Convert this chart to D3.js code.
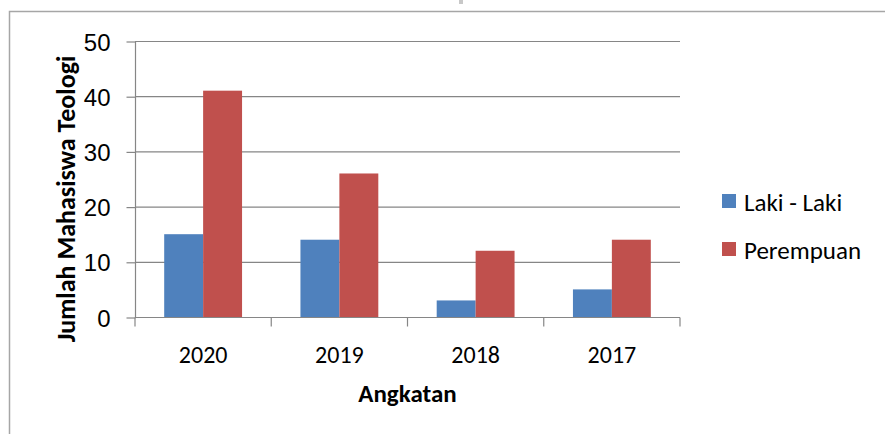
<!DOCTYPE html>
<html>
<head>
<meta charset="utf-8">
<script src="https://cdn.jsdelivr.net/npm/d3@7"></script>
<style>
  body { margin: 0; background: #fff; }
  svg { display: block; font-family: Calibri, Carlito, 'Open Sans', sans-serif; }
</style>
</head>
<body>
<svg id="chart" width="885" height="434"></svg>
<script>
//
// Data
//

var years = ['2020', '2019', '2018', '2017']
var seriesNames = ['Laki - Laki', 'Perempuan']
var laki = [15, 14, 3, 5]
var perempuan = [41, 26, 12, 14]
var yTicks = [0, 10, 20, 30, 40, 50]

//
// Configuration
//

var colorLaki = '#4f81bd'
var colorPerempuan = '#c0504d'
var colorGrid = '#868686'
var colorBorder = '#a6a6a6'
var plot = { left: 135, right: 680, top: 41, bottom: 317 }
// excel style gap width (150% of one bar)
var gapWidth = 1.5

//
// Drawing
//

var svg = d3.select('#chart')

// outer chart border
svg.append('rect')
  .attr('x', 9.5).attr('y', 11.5)
  .attr('width', 890).attr('height', 440)
  .attr('fill', 'none')
  .attr('stroke', colorBorder)
  .attr('stroke-width', 1.5)

svg.append('rect')
  .attr('x', 459).attr('y', 0)
  .attr('width', 4).attr('height', 4)
  .attr('fill', '#c8c8c8')

var band = d3.scaleBand().domain(years).range([plot.left, plot.right])
var y = d3.scaleLinear().domain([0, 50]).range([plot.bottom, plot.top])
var barW = band.bandwidth() / (2 + gapWidth)
var groupOffset = barW * gapWidth / 2

// gridlines
svg.append('g')
  .selectAll('line')
  .data(yTicks.slice(1))
  .join('line')
  .attr('x1', plot.left).attr('x2', plot.right)
  .attr('y1', d => y(d) + 0.5).attr('y2', d => y(d) + 0.5)
  .attr('stroke', colorGrid)
  .attr('stroke-width', 1.2)

// bars
var groups = [laki, perempuan]
var colors = [colorLaki, colorPerempuan]
groups.forEach(function(vals, s) {
  svg.append('g')
    .selectAll('rect')
    .data(vals)
    .join('rect')
    .attr('x', (d, i) => band(years[i]) + groupOffset + s * barW)
    .attr('y', d => y(d))
    .attr('width', barW)
    .attr('height', d => y(0) - y(d))
    .attr('fill', colors[s])
})

// y axis
var yAxis = d3.axisLeft(y).tickValues(yTicks).tickSize(9).tickPadding(16)
var gy = svg.append('g')
  .attr('transform', 'translate(' + (plot.left + 0.5) + ',0.5)')
  .call(yAxis)
gy.selectAll('line, path').attr('stroke', colorGrid).attr('stroke-width', 1.2)
gy.select('.domain').attr('d', 'M0,' + y(50) + 'V' + y(0))
gy.selectAll('text')
  .attr('font-size', 24)
  .attr('fill', '#000')
  .attr('dy', '0.36em')
  .attr('font-family', null)

// x axis
var gx = svg.append('g')
  .attr('transform', 'translate(0,' + (plot.bottom + 0.5) + ')')
gx.append('line')
  .attr('x1', plot.left).attr('x2', plot.right)
  .attr('stroke', colorGrid).attr('stroke-width', 1.2)
gx.selectAll('.tick')
  .data(years.concat(['end']))
  .join('line')
  .attr('x1', (d, i) => i < years.length ? band(d) : plot.right)
  .attr('x2', (d, i) => i < years.length ? band(d) : plot.right)
  .attr('y1', 0).attr('y2', 9)
  .attr('stroke', colorGrid).attr('stroke-width', 1.2)
gx.selectAll('text')
  .data(years)
  .join('text')
  .attr('x', d => band(d) + band.bandwidth() / 2)
  .attr('y', 45)
  .attr('text-anchor', 'middle')
  .attr('font-size', 24)
  .text(d => d)

// axis titles
svg.append('text')
  .attr('x', (plot.left + plot.right) / 2)
  .attr('y', 402)
  .attr('text-anchor', 'middle')
  .attr('font-size', 25)
  .attr('font-weight', 'bold')
  .text('Angkatan')

svg.append('text')
  .attr('transform', 'translate(75,199) rotate(-90)')
  .attr('text-anchor', 'middle')
  .attr('font-size', 26)
  .attr('font-weight', 'bold')
  .text('Jumlah Mahasiswa Teologi')

// legend
var legend = svg.append('g')
  .selectAll('g')
  .data(seriesNames)
  .join('g')
  .attr('transform', (d, i) => 'translate(722,' + (194 + i * 48) + ')')
legend.append('rect')
  .attr('width', 14).attr('height', 14)
  .attr('fill', (d, i) => colors[i])
legend.append('text')
  .attr('x', 22).attr('y', 17)
  .attr('font-size', 25)
  .text(d => d)
</script>
</body>
</html>
